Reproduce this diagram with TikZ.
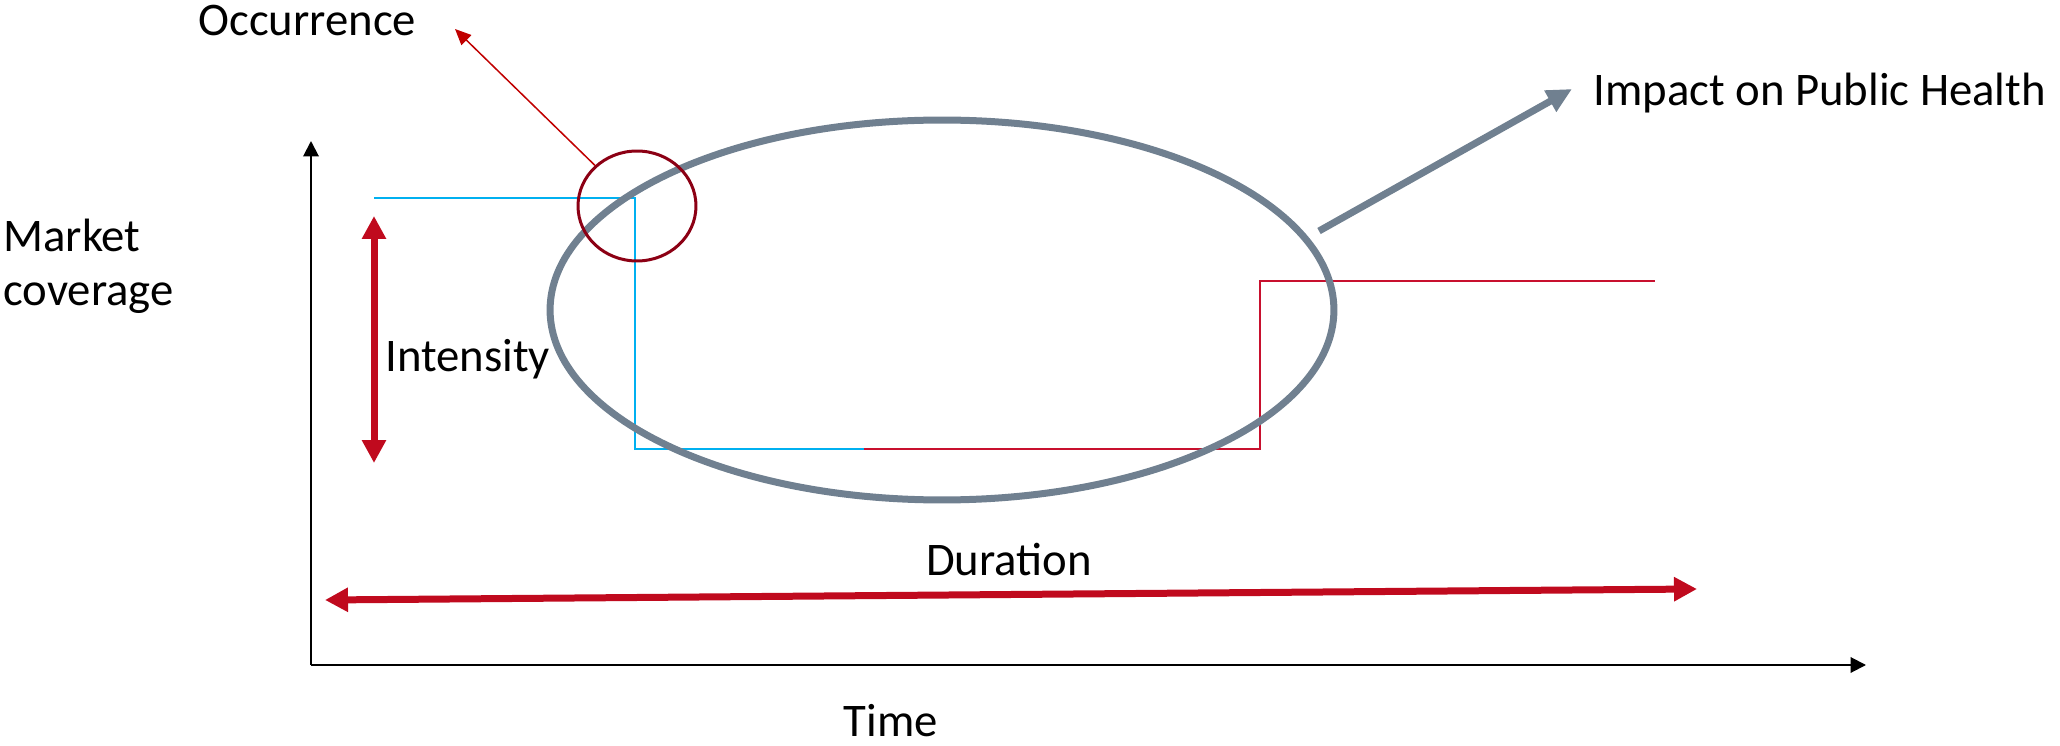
\documentclass[tikz,border=0pt]{standalone}
\usepackage{fontspec}
\setmainfont{Carlito}
\usetikzlibrary{arrows.meta,shapes.geometric}
\definecolor{durred}{RGB}{192,10,30}
\definecolor{stepred}{RGB}{200,16,46}
\definecolor{stepblue}{RGB}{0,176,240}
\definecolor{occred}{RGB}{140,0,20}
\definecolor{occarrow}{RGB}{192,0,0}
\definecolor{impgray}{RGB}{112,128,144}
\tikzset{
  lbl/.style={inner sep=0pt, font=\fontsize{26.6}{30.8}\selectfont},
  axis/.style={line width=0.04cm, -{Triangle[length=0.31cm,width=0.31cm]}},
  bigarrow/.style={line width=0.14cm, durred, {Triangle[length=0.46cm,width=0.46cm]}-{Triangle[length=0.46cm,width=0.46cm]}},
  stepline/.style={line width=0.04cm},
}
\begin{document}
\begin{tikzpicture}[x=0.02cm,y=-0.02cm]
\path[use as bounding box] (0,0) rectangle (2060,746);
% axes
\coordinate (origin) at (311,665);
\coordinate (ytop) at (311,141);
\coordinate (xend) at (1866,665);
\draw[axis] (origin) -- (ytop);
\draw[axis] (origin) -- (xend);
% step lines
\draw[stepline, stepblue] (374,198) -- (635,198) -- (635,449) -- (864,449);
\draw[stepline, stepred] (864,449) -- (1260,449) -- (1260,281) -- (1655,281);
% impact ellipse
\node[ellipse, draw=impgray, line width=0.14cm, minimum width=15.68cm, minimum height=7.6cm, inner sep=0pt] (impact) at (942,310) {};
% occurrence circle
\node[ellipse, draw=occred, line width=0.06cm, minimum width=2.36cm, minimum height=2.2cm, inner sep=0pt] (occ) at (637,206) {};
% labels
\node[lbl, anchor=base west] (occlbl) at (198,36) {Occurrence};
\node[lbl, anchor=base west] (implbl) at (1593,106) {Impact on Public Health};
\node[lbl, anchor=base west, align=left] (market) at (3,306) {Market\\coverage};
\node[lbl, anchor=base west] (intlbl) at (385,372) {Intensity};
\node[lbl, anchor=base] (durlbl) at (1009,576) {Duration};
\node[lbl, anchor=base] (timelbl) at (891,736) {Time};
% occurrence arrow
\coordinate (occtip) at (455,29);
\draw[occarrow, line width=0.03cm, -{Triangle[length=0.32cm,width=0.28cm]}] (occ.136) -- (occtip);
% impact arrow
\coordinate (impstart) at (1319,231);
\coordinate (imptip) at (1572,89);
\draw[impgray, line width=0.14cm, -{Triangle[length=0.5cm,width=0.46cm]}] (impstart) -- (imptip);
% intensity arrow
\coordinate (inttop) at (374,216);
\coordinate (intbot) at (374,463);
\draw[bigarrow] (intbot) -- (inttop);
% duration arrow
\coordinate (durl) at (325,600);
\coordinate (durr) at (1697,589);
\draw[bigarrow] (durl) -- (durr);
\end{tikzpicture}
\end{document}
